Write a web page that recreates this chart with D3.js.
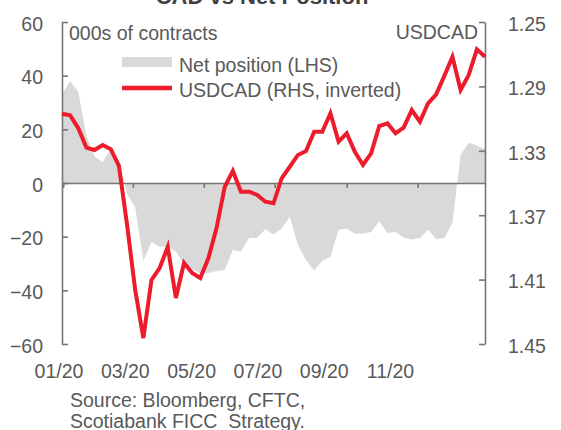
<!DOCTYPE html>
<meta charset="utf-8">
<script src="https://d3js.org/d3.v7.min.js"></script>
<style>
body { margin: 0; background: #fff; }
text { font-family: "Liberation Sans", Arial, sans-serif; fill: #595959; }
.axis path, .axis line { stroke: #767676; stroke-width: 1.6; fill: none; }
.axis text { font-size: 19.5px; fill: #595959; }
</style>
<body>
<script>

// weekly CFTC dates (Tuesdays), first one
var startDate = "2019-12-31";
var nWeeks = 53;

// CAD net position, 000s of contracts (LHS)
var netPosition = [33, 38, 34, 17.5, 10, 7.7, 12.6, 8.3, -4, -9,
  -29, -22, -23.8, -23.8, -25.5, -30.5, -32, -33.7, -33.5, -32.8,
  -32.5, -25, -25.5, -20.5, -20.5, -17.2, -19.2, -17, -12.6, -23,
  -28.8, -32.6, -29, -27.5, -17.5, -17, -18.9, -18.9, -18.3, -14.3,
  -18.6, -18.3, -20.4, -21.1, -20.5, -17.3, -21, -20.5, -14.8, 10.5,
  15, 14, 12.6];

// USDCAD spot (RHS, inverted)
var usdcad = [1.307, 1.308, 1.316, 1.328, 1.3295, 1.3264, 1.329, 1.3394, 1.376, 1.4164,
  1.4463, 1.4102, 1.4028, 1.3897, 1.4214, 1.3997, 1.4059, 1.409, 1.3966, 1.378,
  1.3525, 1.3425, 1.3554, 1.3554, 1.3574, 1.3616, 1.3626, 1.3471, 1.3399, 1.3326,
  1.3301, 1.3181, 1.3181, 1.3067, 1.3243, 1.3191, 1.3306, 1.3388, 1.3316, 1.3146,
  1.3129, 1.3191, 1.3156, 1.3047, 1.3119, 1.3005, 1.2949, 1.2835, 1.2716, 1.2922,
  1.2829, 1.267, 1.2716];

var leftTicks = [-60, -40, -20, 0, 20, 40, 60];
var rightTicks = [1.25, 1.29, 1.33, 1.37, 1.41, 1.45];
var monthLabels = ["01/20", "03/20", "05/20", "07/20", "09/20", "11/20"];

var t0 = d3.utcParse("%Y-%m-%d")(startDate);
var dates = d3.range(nWeeks).map(function(i) { return d3.utcDay.offset(t0, 7 * i); });

var data = dates.map(function(d, i) {
    return { date: d, net: netPosition[i], fx: usdcad[i] };
});

var W = 561, H = 430;
var plotL = 62, plotR = 485, plotT = 22, plotB = 344;

var svg = d3.select("body").append("svg")
    .attr("width", W)
    .attr("height", H);

var x = d3.scaleUtc()
    .domain([dates[0], dates[dates.length - 1]])
    .range([plotL, plotR]);

var yL = d3.scaleLinear().domain([-60, 60]).range([plotB, plotT]);
var yR = d3.scaleLinear().domain([1.25, 1.45]).range([plotT, plotB]);

// title (cut off at the top)
svg.append("text")
    .attr("x", 262)
    .attr("y", 4)
    .attr("text-anchor", "middle")
    .style("font-size", "22px")
    .style("font-weight", "bold")
    .style("fill", "#404040")
    .text("CAD vs Net Position");

// net position area
var area = d3.area()
    .x(function(d) { return x(d.date); })
    .y0(yL(0))
    .y1(function(d) { return yL(d.net); });

svg.append("path")
    .datum(data)
    .attr("d", area)
    .attr("fill", "#d9d9d9");

// left axis
svg.append("g")
    .attr("class", "axis")
    .attr("transform", "translate(" + plotL + ",0)")
    .call(d3.axisLeft(yL).tickValues(leftTicks).tickSize(-6).tickSizeOuter(0).tickPadding(19))
    .call(function(g) { g.selectAll("text").attr("dy", "0.42em"); });

// right axis
svg.append("g")
    .attr("class", "axis")
    .attr("transform", "translate(" + plotR + ",0)")
    .call(d3.axisRight(yR).tickValues(rightTicks).tickFormat(d3.format(".2f"))
        .tickSize(-6).tickSizeOuter(0).tickPadding(23))
    .call(function(g) { g.selectAll("text").attr("dy", "0.42em"); });

// x axis at zero
svg.append("g")
    .attr("class", "axis")
    .attr("transform", "translate(0," + yL(0) + ")")
    .call(d3.axisBottom(x).ticks(d3.utcMonth.every(2)).tickFormat("").tickSize(5).tickSizeOuter(0));

// month labels along the bottom
var xl = d3.scalePoint().domain(monthLabels).range([59, 390.5]);
svg.append("g")
    .selectAll("text")
    .data(monthLabels)
    .enter()
    .append("text")
    .attr("x", function(d) { return xl(d); })
    .attr("y", 378)
    .attr("text-anchor", "middle")
    .style("font-size", "19.5px")
    .text(function(d) { return d; });

// USDCAD line
var line = d3.line()
    .x(function(d) { return x(d.date); })
    .y(function(d) { return yR(d.fx); });

svg.append("path")
    .datum(data)
    .attr("d", line)
    .attr("fill", "none")
    .attr("stroke", "#ec1c2d")
    .attr("stroke-width", 4);

// axis titles
svg.append("text")
    .attr("x", 69).attr("y", 40)
    .style("font-size", "19.5px")
    .text("000s of contracts");

svg.append("text")
    .attr("x", 478).attr("y", 39)
    .attr("text-anchor", "end")
    .style("font-size", "19.5px")
    .text("USDCAD");

// legend
svg.append("rect")
    .attr("x", 122).attr("y", 57)
    .attr("width", 50).attr("height", 10)
    .attr("fill", "#d9d9d9");
svg.append("text")
    .attr("x", 179).attr("y", 71.5)
    .style("font-size", "19.5px")
    .text("Net position (LHS)");

svg.append("line")
    .attr("x1", 122).attr("x2", 172)
    .attr("y1", 88).attr("y2", 88)
    .attr("stroke", "#ec1c2d")
    .attr("stroke-width", 4.5);
svg.append("text")
    .attr("x", 179).attr("y", 96.5)
    .style("font-size", "19.5px")
    .text("USDCAD (RHS, inverted)");

// source
svg.append("text")
    .attr("x", 70).attr("y", 406.5)
    .style("font-size", "19.5px")
    .text("Source: Bloomberg, CFTC,");
svg.append("text")
    .attr("x", 70).attr("y", 428)
    .style("font-size", "19.5px")
    .style("white-space", "pre")
    .text("Scotiabank FICC  Strategy.");

</script>
</body>
</html>
